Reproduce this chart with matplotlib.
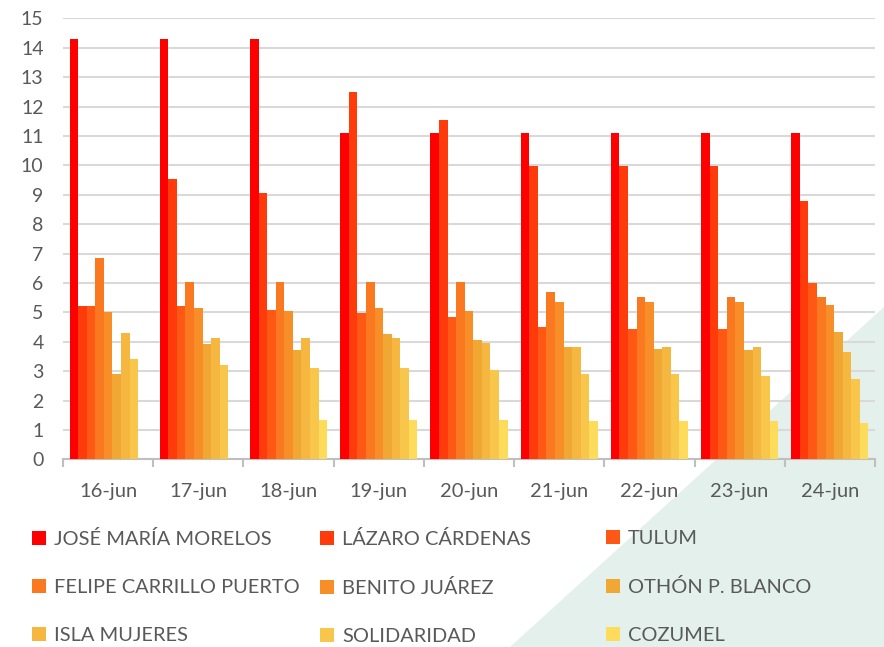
import numpy as np
import matplotlib.pyplot as plt
from matplotlib.patches import Polygon, Patch

plt.rcParams['font.family'] = ['Lato', 'DejaVu Sans']

dates = ['16-jun', '17-jun', '18-jun', '19-jun', '20-jun', '21-jun', '22-jun', '23-jun', '24-jun']
municipios = ['JOSÉ MARÍA MORELOS', 'LÁZARO CÁRDENAS', 'TULUM',
              'FELIPE CARRILLO PUERTO', 'BENITO JUÁREZ', 'OTHÓN P. BLANCO',
              'ISLA MUJERES', 'SOLIDARIDAD', 'COZUMEL']
colors = ['#FF0000', '#FF3B0B', '#FF5714', '#F97820', '#F78E28', '#F0A733',
          '#F5B73F', '#F9C64C', '#FDDC5C']

jose_maria_morelos = [14.29, 14.29, 14.29, 11.11, 11.11, 11.11, 11.11, 11.11, 11.11]
lazaro_cardenas = [5.23, 9.52, 9.05, 12.5, 11.53, 9.98, 9.98, 9.98, 8.8]
tulum = [5.23, 5.23, 5.09, 4.97, 4.84, 4.5, 4.42, 4.42, 5.99]
felipe_carrillo_puerto = [6.86, 6.02, 6.02, 6.02, 6.02, 5.68, 5.51, 5.51, 5.51]
benito_juarez = [5.0, 5.14, 5.05, 5.14, 5.06, 5.34, 5.35, 5.35, 5.26]
othon_p_blanco = [2.9, 3.92, 3.71, 4.25, 4.05, 3.84, 3.75, 3.71, 4.34]
isla_mujeres = [4.3, 4.13, 4.13, 4.13, 3.96, 3.84, 3.83, 3.83, 3.66]
solidaridad = [3.41, 3.21, 3.12, 3.11, 3.04, 2.91, 2.91, 2.83, 2.73]
cozumel = [0, 0, 1.35, 1.35, 1.35, 1.32, 1.3, 1.3, 1.24]

series = [jose_maria_morelos, lazaro_cardenas, tulum, felipe_carrillo_puerto,
          benito_juarez, othon_p_blanco, isla_mujeres, solidaridad, cozumel]

fig = plt.figure(figsize=(8.84, 6.47), dpi=100)
fig.patch.set_facecolor('white')

# pale green diagonal in the background
fig.patches.append(Polygon([[1, 1 - 307/647], [1, 0], [510/884, 0]],
                           closed=True, transform=fig.transFigure,
                           facecolor='#E3F0EB', edgecolor='none', zorder=-5))

ax = fig.add_axes([0.0713, 0.2898, 0.9185, 0.6819])
ax.set_zorder(2)
ax.patch.set_alpha(0)

x = np.arange(len(dates))
n = len(series)
w = 0.855 / n
for j, vals in enumerate(series):
    ax.bar(x + (j - (n - 1) / 2) * w, vals, width=w, color=colors[j],
           label=municipios[j], zorder=3, linewidth=0)

ax.set_xlim(-0.5, len(dates) - 0.5)
ax.set_ylim(0, 15)
ax.set_yticks(range(0, 16))
ax.grid(axis='y', color='#D9D9D9', linewidth=1.5, zorder=0)
ax.set_axisbelow(True)

for s in ['top', 'right', 'left']:
    ax.spines[s].set_visible(False)
ax.spines['bottom'].set_color('#BFBFBF')
ax.spines['bottom'].set_linewidth(1.5)

ax.set_xticks(x)
ax.set_xticklabels(dates)
ax.set_xticks(np.arange(-0.5, len(dates)), minor=True)
ax.tick_params(axis='x', which='major', length=0, pad=17, labelsize=14.5, labelcolor='#595959')
ax.tick_params(axis='x', which='minor', length=6, width=1.5, color='#BFBFBF')
ax.tick_params(axis='y', length=0, pad=14, labelsize=14, labelcolor='#595959')

# legend: three columns placed by hand
handles = [Patch(facecolor=c, edgecolor='none') for c in colors]
col_x = [32/884, 320/884, 606/884]
for c in range(3):
    idx = [c, c + 3, c + 6]
    leg = fig.legend([handles[i] for i in idx], [municipios[i] for i in idx],
                     loc='upper left', bbox_to_anchor=(col_x[c], 1 - 530/647),
                     frameon=False, fontsize=14.4, labelcolor='#595959',
                     handlelength=0.7, handleheight=0.7, handletextpad=0.4,
                     labelspacing=1.56, borderpad=0, borderaxespad=0)
    leg.set_zorder(3)

fig.savefig('out.png', dpi=100)
